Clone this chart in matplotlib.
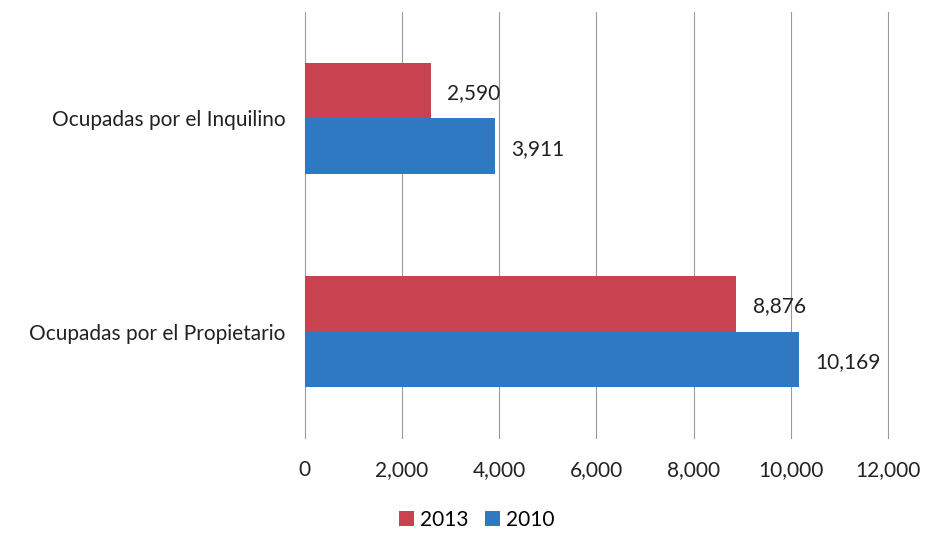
import matplotlib
matplotlib.use("Agg")
import matplotlib.pyplot as plt
import numpy as np

categories = ["Ocupadas por el Propietario", "Ocupadas por el Inquilino"]
series_names = ["2013", "2010"]
values_2013 = [8876, 2590]
values_2010 = [10169, 3911]
xticks = [0, 2000, 4000, 6000, 8000, 10000, 12000]

plt.rcParams['font.family'] = ['Lato', 'DejaVu Sans']

fig = plt.figure(figsize=(9.26, 5.33), dpi=100)
ax = fig.add_axes([0.329, 0.178, 0.63, 0.80])

colors = ["#C8424F", "#2F79C3"]
h = 0.26
y = np.arange(len(categories))
b1 = ax.barh(y + h / 2, values_2013, height=h, color=colors[0], label=series_names[0], zorder=3)
b2 = ax.barh(y - h / 2, values_2010, height=h, color=colors[1], label=series_names[1], zorder=3)

fs = 15
for bars, vals in ((b1, values_2013), (b2, values_2010)):
    for rect, v in zip(bars, vals):
        ax.annotate(f"{v:,}", (v, rect.get_y() + rect.get_height() / 2),
                    xytext=(12, -2), textcoords="offset points",
                    va="center", ha="left", fontsize=fs, color="#222222")

ax.set_xlim(0, 12000)
ax.set_ylim(-0.5, 1.5)
ax.set_xticks(xticks)
ax.set_xticklabels([f"{t:,}" for t in xticks], fontsize=fs, color="#222222")
ax.set_yticks(y)
ax.set_yticklabels(categories, fontsize=fs, color="#222222")
ax.tick_params(axis='x', length=0, pad=16)
ax.tick_params(axis='y', length=0, pad=14)
ax.grid(axis='x', color="#9a9a9a", linewidth=0.8, zorder=0)
for gl in ax.get_xgridlines():
    gl.set_clip_on(False)
for s in ax.spines.values():
    s.set_visible(False)

fig.legend(handles=[b1, b2], labels=series_names, loc="center", bbox_to_anchor=(0.515, 0.025),
           ncol=2, frameon=False, fontsize=fs, handlelength=0.7, handleheight=0.7,
           handletextpad=0.3, columnspacing=0.8)

fig.savefig("out.png", dpi=100, facecolor="white")
